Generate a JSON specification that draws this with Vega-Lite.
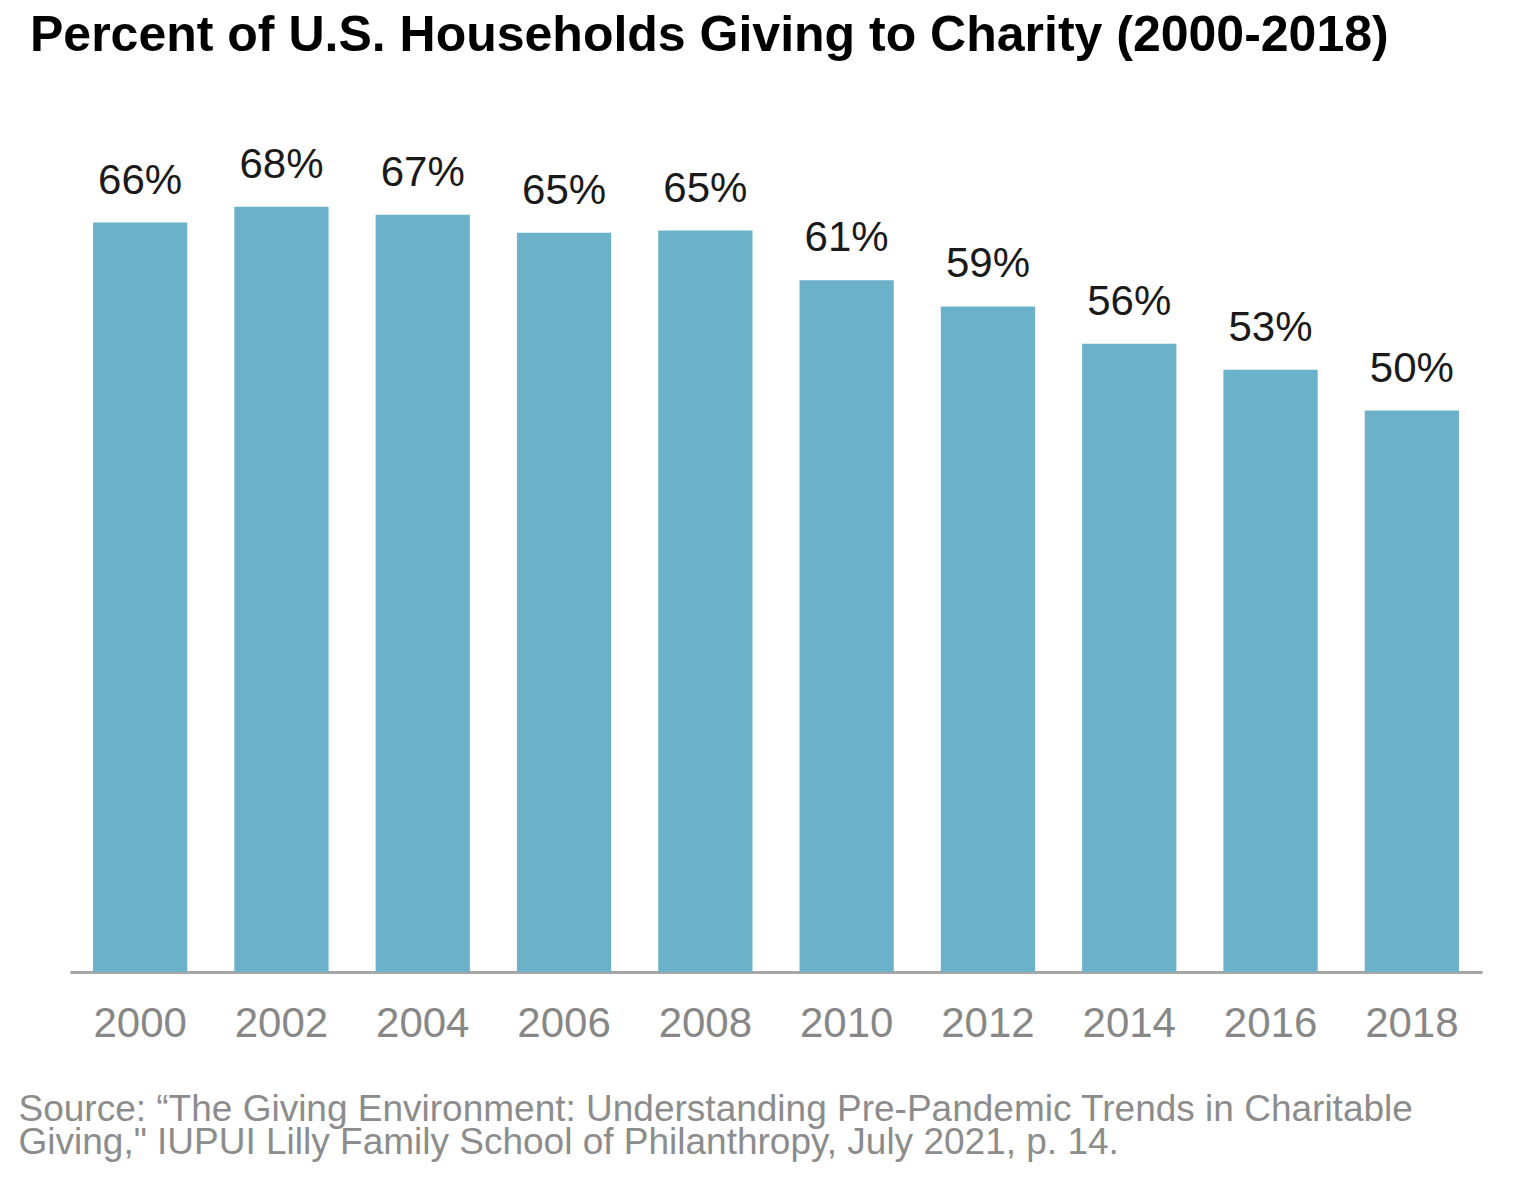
{
  "$schema": "https://vega.github.io/schema/vega-lite/v6.json",
  "width": 1412,
  "height": 849,
  "autosize": {"type": "none"},
  "padding": {"left": 70, "top": 123, "right": 53, "bottom": 208},
  "background": "white",
  "title": {
    "text": "Percent of U.S. Households Giving to Charity (2000-2018)",
    "anchor": "start",
    "frame": "group",
    "dx": -40,
    "offset": 22,
    "baseline": "alphabetic",
    "font": "Liberation Sans",
    "fontWeight": "bold",
    "fontSize": 50,
    "color": "#000000"
  },
  "data": {
    "values": [
      {"year": "2000", "pct": 66.2, "label": "66%"},
      {"year": "2002", "pct": 67.6, "label": "68%"},
      {"year": "2004", "pct": 66.9, "label": "67%"},
      {"year": "2006", "pct": 65.3, "label": "65%"},
      {"year": "2008", "pct": 65.5, "label": "65%"},
      {"year": "2010", "pct": 61.1, "label": "61%"},
      {"year": "2012", "pct": 58.8, "label": "59%"},
      {"year": "2014", "pct": 55.5, "label": "56%"},
      {"year": "2016", "pct": 53.2, "label": "53%"},
      {"year": "2018", "pct": 49.6, "label": "50%"}
    ]
  },
  "encoding": {
    "x": {
      "field": "year",
      "type": "ordinal",
      "scale": {"paddingInner": 0.333, "paddingOuter": 0.163},
      "axis": {
        "title": [
          "Source: “The Giving Environment: Understanding Pre-Pandemic Trends in Charitable",
          "Giving,\" IUPUI Lilly Family School of Philanthropy, July 2021, p. 14."
        ],
        "titleFont": "Liberation Sans",
        "titleFontSize": 37,
        "titleFontWeight": "normal",
        "titleColor": "#8c8c8c",
        "titleAnchor": "start",
        "titleAlign": "left",
        "titleX": -52,
        "titleY": 148,
        "titleBaseline": "alphabetic",
        "titleLineHeight": 33,
        "labelAngle": 0,
        "labelFont": "Liberation Sans",
        "labelFontSize": 42,
        "labelColor": "#878787",
        "labelPadding": 64,
        "labelBaseline": "alphabetic",
        "ticks": false,
        "tickSize": 0,
        "domainColor": "#a6a6a6",
        "domainWidth": 3,
        "grid": false
      }
    },
    "y": {
      "field": "pct",
      "type": "quantitative",
      "scale": {"domain": [0, 75]},
      "axis": null
    }
  },
  "layer": [
    {"mark": {"type": "bar", "color": "#6AB1C9"}},
    {
      "mark": {
        "type": "text",
        "dy": -29,
        "baseline": "alphabetic",
        "font": "Liberation Sans",
        "fontSize": 42,
        "color": "#1a1a1a"
      },
      "encoding": {"text": {"field": "label"}}
    }
  ],
  "config": {"view": {"stroke": null}}
}
